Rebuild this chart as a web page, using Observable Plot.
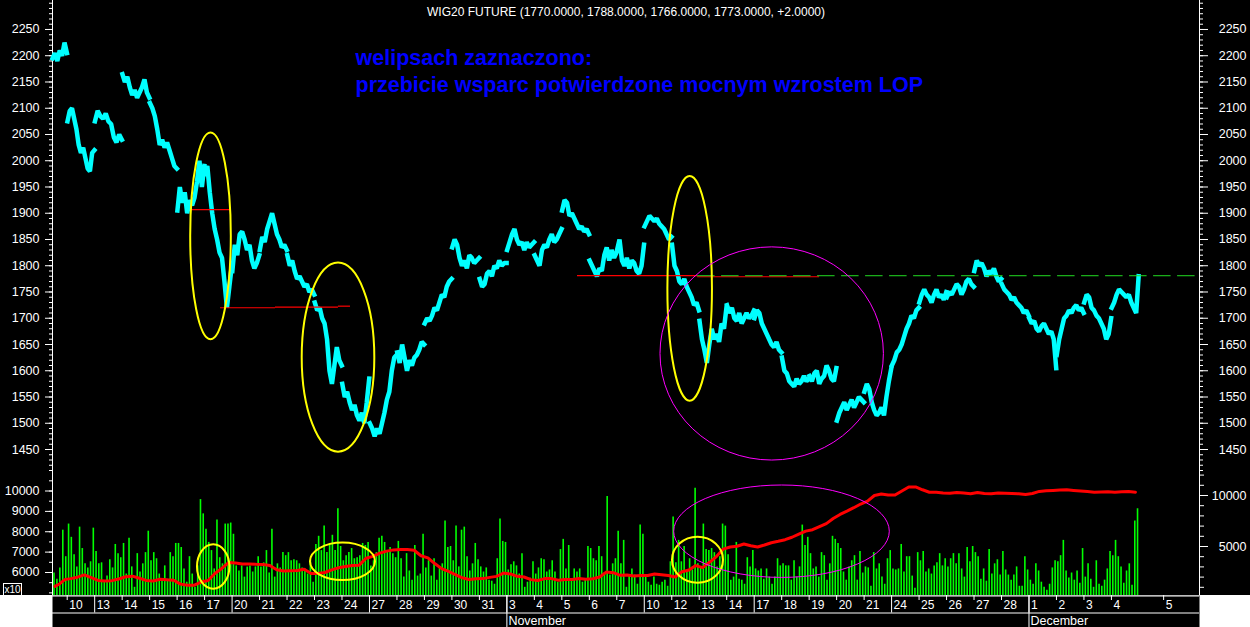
<!DOCTYPE html>
<html><head><meta charset="utf-8">
<script src="https://cdn.jsdelivr.net/npm/d3@7"></script>
<script src="https://cdn.jsdelivr.net/npm/@observablehq/plot@0.6"></script>
<style>
html,body{margin:0;padding:0;background:#000;}
#chart{position:relative;width:1250px;height:627px;background:#000;overflow:hidden;font-family:"Liberation Sans",Arial,sans-serif;}
#chart svg{position:absolute;left:0;}
.x10{position:absolute;left:3px;top:583px;width:19px;height:13px;box-sizing:border-box;border:1px solid #fff;color:#fff;font:10px "Liberation Sans",Arial,sans-serif;line-height:11px;text-align:center;}
</style></head><body><div id="chart"></div>
<script>
// ---------------- DATA ----------------
const title = "WIG20 FUTURE (1770.0000, 1788.0000, 1766.0000, 1773.0000, +2.0000)";
const noteLine1 = "welipsach zaznaczono:";
const noteLine2 = "przebicie wsparc potwierdzone mocnym wzrostem LOP";

// trading sessions (first one only partly visible)
const tradingDays = [
  "2008-10-09","2008-10-10","2008-10-13","2008-10-14","2008-10-15","2008-10-16","2008-10-17",
  "2008-10-20","2008-10-21","2008-10-22","2008-10-23","2008-10-24","2008-10-27","2008-10-28",
  "2008-10-29","2008-10-30","2008-10-31","2008-11-03","2008-11-04","2008-11-05","2008-11-06",
  "2008-11-07","2008-11-10","2008-11-12","2008-11-13","2008-11-14","2008-11-17","2008-11-18",
  "2008-11-19","2008-11-20","2008-11-21","2008-11-24","2008-11-25","2008-11-26","2008-11-27",
  "2008-11-28","2008-12-01","2008-12-02","2008-12-03","2008-12-04"
];
const futureTicks = [{label: "5", t: 39.9}];
const monthNames = ["January","February","March","April","May","June","July","August","September","October","November","December"];

// WIG20 futures price, intraday samples per session
const price = [
  [2195, 2205, 2190, 2210, 2200, 2225, 2205],
  [2075, 2095, 2100, 2080, 2060, 2030, 2015, 2025, 2005, 1985, 1980, 2015, 2020],
  [2075, 2095, 2085, 2080, 2090, 2075, 2070, 2045, 2035, 2050, 2040],
  [2165, 2150, 2160, 2140, 2125, 2135, 2120, 2130, 2140, 2155, 2130, 2120],
  [2110, 2100, 2085, 2060, 2030, 2040, 2025, 2035, 2020, 2005, 1990, 1985],
  [1905, 1950, 1920, 1940, 1900, 1925, 1915, 1930, 1960, 2000, 1950, 1990],
  [1975, 1990, 1940, 1900, 1870, 1850, 1825, 1815, 1770, 1720, 1760, 1800],
  [1790, 1840, 1820, 1860, 1865, 1850, 1830, 1840, 1810, 1795, 1805, 1820],
  [1830, 1855, 1845, 1870, 1885, 1900, 1880, 1860, 1850, 1835, 1840, 1830],
  [1820, 1800, 1810, 1790, 1775, 1780, 1770, 1760, 1765, 1750, 1755, 1745],
  [1730, 1715, 1720, 1700, 1690, 1660, 1600, 1575, 1610, 1645, 1620, 1610],
  [1575, 1550, 1560, 1540, 1525, 1535, 1515, 1505, 1520, 1500, 1540, 1585],
  [1500, 1490, 1475, 1490, 1480, 1500, 1520, 1545, 1560, 1600, 1625, 1630],
  [1635, 1615, 1650, 1625, 1600, 1620, 1610, 1625, 1630, 1640, 1655, 1650],
  [1690, 1700, 1695, 1705, 1720, 1715, 1730, 1745, 1740, 1760, 1770, 1775],
  [1835, 1850, 1840, 1815, 1800, 1810, 1795, 1820, 1815, 1805, 1810, 1815],
  [1775, 1760, 1765, 1785, 1790, 1780, 1800, 1795, 1810, 1800, 1805, 1805],
  [1830, 1845, 1860, 1870, 1850, 1840, 1845, 1830, 1845, 1835, 1840, 1845],
  [1820, 1810, 1800, 1830, 1840, 1835, 1850, 1860, 1845, 1850, 1860, 1870],
  [1905, 1925, 1920, 1895, 1900, 1890, 1880, 1870, 1875, 1865, 1870, 1860],
  [1810, 1800, 1790, 1780, 1795, 1790, 1820, 1835, 1810, 1830, 1815, 1825],
  [1830, 1850, 1810, 1800, 1815, 1795, 1810, 1805, 1790, 1785, 1800, 1840],
  [1875, 1885, 1895, 1890, 1885, 1890, 1880, 1875, 1870, 1860, 1850, 1855],
  [1840, 1800, 1790, 1770, 1765, 1775, 1760, 1750, 1740, 1725, 1730, 1715],
  [1695, 1660, 1640, 1615, 1650, 1680, 1660, 1670, 1655, 1690, 1680, 1720],
  [1725, 1710, 1720, 1700, 1695, 1710, 1690, 1700, 1710, 1700, 1705, 1715],
  [1700, 1715, 1710, 1690, 1680, 1670, 1660, 1650, 1645, 1655, 1640, 1635],
  [1625, 1600, 1595, 1580, 1575, 1570, 1585, 1575, 1580, 1590, 1580, 1585],
  [1590, 1580, 1595, 1600, 1575, 1585, 1590, 1610, 1600, 1585, 1580, 1605],
  [1505, 1520, 1530, 1540, 1525, 1535, 1545, 1530, 1540, 1550, 1545, 1540],
  [1560, 1575, 1565, 1540, 1525, 1515, 1520, 1530, 1515, 1550, 1580, 1605],
  [1610, 1620, 1635, 1640, 1650, 1665, 1680, 1690, 1705, 1700, 1715, 1720],
  [1730, 1745, 1755, 1745, 1740, 1730, 1745, 1755, 1740, 1745, 1735, 1750],
  [1740, 1750, 1745, 1755, 1765, 1760, 1745, 1755, 1770, 1775, 1765, 1760],
  [1790, 1810, 1800, 1805, 1795, 1780, 1790, 1785, 1795, 1780, 1770, 1775],
  [1765, 1755, 1750, 1745, 1735, 1740, 1730, 1725, 1720, 1710, 1715, 1705],
  [1700, 1690, 1695, 1680, 1675, 1685, 1690, 1680, 1670, 1675, 1660, 1605],
  [1630, 1660, 1680, 1700, 1705, 1715, 1710, 1720, 1725, 1715, 1720, 1710],
  [1730, 1745, 1740, 1720, 1715, 1705, 1700, 1690, 1680, 1660, 1670, 1700],
  [1720, 1730, 1745, 1755, 1750, 1745, 1740, 1745, 1730, 1720, 1710, 1780]
];

// volume bars per session (right axis)
const volume = [
  [2400, 1800, 2900, 6600, 4000],
  [7200, 5900, 4200, 3000, 6900, 4800, 3300, 2900, 3500, 6800],
  [4500, 3300, 3400, 1500, 2100, 3700, 2900, 5200, 4300, 3900],
  [5300, 2300, 5800, 3000, 1000, 4300, 2500, 3300, 4400, 6500],
  [3600, 4400, 3800, 2300, 1700, 3100, 1800, 4400, 4000, 5300],
  [5300, 4900, 2800, 1500, 4000, 2300, 1000, 3100, 9600, 8200],
  [6700, 5400, 4600, 2800, 7600, 3900, 3300, 7200, 7200, 7300],
  [6200, 3100, 2600, 3100, 2000, 3000, 3100, 2500, 3000, 4000],
  [3000, 3400, 4600, 2400, 6700, 2000, 3300, 2900, 4400, 4100],
  [4400, 3600, 3700, 3600, 3300, 2900, 2800, 2300, 3600, 1500],
  [5200, 6000, 4600, 7000, 4400, 5300, 6100, 4600, 8700, 5000],
  [3600, 4100, 4400, 4800, 3800, 3900, 4100, 5300, 5100, 5400],
  [3100, 3600, 4400, 5800, 6000, 5400, 4600, 4900, 4300, 3900],
  [5500, 3800, 2000, 4300, 2600, 1700, 5100, 2100, 2300, 6200],
  [2900, 3600, 2100, 3800, 1700, 3000, 3300, 7500, 4900, 5000],
  [3600, 7000, 3000, 6600, 6900, 4000, 2600, 3300, 5300, 3700],
  [3000, 2500, 2900, 1700, 1600, 1300, 3800, 7700, 5500, 5400],
  [2700, 3200, 3500, 3100, 2300, 4300, 1000, 1500, 1900, 3500],
  [2300, 2900, 3800, 3700, 2500, 2700, 3600, 2500, 1500, 4700],
  [5700, 2800, 5100, 1700, 2800, 2500, 2800, 1500, 1700, 5000],
  [4800, 3800, 3600, 5000, 4000, 2300, 9900, 2200, 3300, 3800],
  [6500, 3300, 5600, 1000, 2200, 2800, 2200, 1300, 7100, 6200],
  [2000, 1500, 1200, 2000, 1300, 1200, 1500, 1700, 1100, 3500],
  [7900, 3400, 5600, 3500, 5000, 2600, 3800, 2700, 10700, 3300],
  [3000, 7200, 4700, 4600, 4800, 4400, 3000, 4000, 7200, 7000],
  [4200, 1700, 2000, 5400, 1800, 1700, 1300, 3900, 3000, 4600],
  [2800, 2600, 2800, 1800, 2800, 2000, 1300, 2000, 3800, 3100],
  [3300, 3100, 3100, 1700, 3600, 2000, 3000, 7100, 5100, 5900],
  [4300, 2800, 3000, 2000, 4400, 4100, 1700, 3300, 6000, 5700],
  [5300, 4800, 2500, 1700, 3000, 3600, 4100, 1700, 4500, 2400],
  [3000, 2900, 1100, 4400, 2800, 3300, 2000, 1300, 3800, 4600],
  [2800, 2700, 2800, 5200, 2500, 4000, 4000, 2100, 900, 4400],
  [3600, 4500, 2500, 2800, 2300, 3100, 3400, 4300, 3100, 3800],
  [3000, 3800, 4300, 3300, 4300, 2800, 2000, 4900, 3500, 5000],
  [4400, 4000, 1800, 2800, 1600, 4700, 2300, 3300, 3700, 2200],
  [4500, 2700, 2200, 1700, 2200, 3000, 1100, 1100, 4000, 2700],
  [1700, 1300, 3300, 2600, 1500, 1000, 700, 1300, 2900, 3600],
  [3500, 4100, 5600, 2600, 1900, 2400, 1700, 2600, 1400, 4800],
  [2000, 3300, 1800, 1000, 3600, 1300, 1100, 1700, 2800, 4500],
  [4100, 5600, 4000, 3000, 1400, 2600, 3300, 1200, 7500, 8700]
];

// open interest (LOP, x10, left axis of lower panel)
const lop = [
  [5320, 5450, 5650],
  [5700, 5770, 5880, 5750],
  [5610, 5580, 5600, 5680],
  [5790, 5820, 5720, 5610],
  [5580, 5670, 5640, 5620],
  [5430, 5370, 5380, 5530],
  [5610, 5950, 6200, 6490],
  [6470, 6420, 6420, 6400],
  [6390, 6340, 6130, 6070],
  [6090, 6100, 6160, 5950],
  [5950, 6000, 6130, 6230],
  [6290, 6340, 6360, 6700],
  [6790, 6950, 7050, 7110],
  [7130, 7130, 7090, 6820],
  [6720, 6440, 6190, 6050],
  [5900, 5740, 5660, 5690],
  [5700, 5760, 5810, 5970],
  [5930, 5810, 5780, 5650],
  [5610, 5700, 5700, 5620],
  [5660, 5660, 5700, 5670],
  [5690, 5780, 6020, 5990],
  [5860, 5880, 5830, 5850],
  [5850, 5930, 5890, 5850],
  [5780, 6040, 6120, 6340],
  [6240, 6500, 6780, 7150],
  [7250, 7290, 7400, 7310],
  [7250, 7350, 7460, 7530],
  [7610, 7730, 7880, 8030],
  [8100, 8250, 8400, 8650],
  [8850, 9010, 9180, 9360],
  [9500, 9780, 9850, 9800],
  [9800, 10000, 10200, 10200],
  [10060, 9940, 9940, 9900],
  [9890, 9930, 9900, 9870],
  [9930, 9880, 9870, 9900],
  [9890, 9880, 9860, 9830],
  [9880, 9980, 10010, 10030],
  [10050, 10060, 10030, 10000],
  [9970, 9940, 9950, 9960],
  [9940, 9960, 9970, 9940]
];

// annotations (x in session index, y in price / LOP units)
const supportLines = [
  {t1: 4.49, t2: 5.95, v: 1907},
  {t1: 5.58, t2: 7.58, v: 1720},
  {t1: 7.58, t2: 9.87, v: 1721},
  {t1: 9.87, t2: 10.31, v: 1723},
  {t1: 18.57, t2: 22.94, v: 1781},
  {t1: 22.94, t2: 27.38, v: 1779}
];
const dashedLevel = [{t1: 22.94, t2: 41.2, v: 1781}];
const priceEllipsesYellow = [
  {t: 5.233, dt: 0.739, v: 1856, dv: 197},
  {t: 9.873, dt: 1.321, v: 1625, dv: 180},
  {t: 22.67, dt: 0.811, v: 1756, dv: 214}
];
const priceEllipsesMagenta = [{t: 25.655, dt: 4.065, v: 1632, dv: 203}];
const lopEllipsesYellow = [
  {t: 5.331, dt: 0.59, v: 6270, dv: 1090},
  {t: 10.036, dt: 1.183, v: 6525, dv: 918},
  {t: 22.955, dt: 0.928, v: 6604, dv: 1129}
];
const lopEllipsesMagenta = [{t: 26.012, dt: 3.923, v: 8002, dv: 2268}];

// axis ticks
const priceMajor = d3.range(1450, 2251, 50);
const priceMinor = d3.range(1410, 2301, 10);
const lopMajor = [6000, 7000, 8000, 9000, 10000];
const lopMinor = d3.range(5000, 10801, 500);
const volMajor = [5000, 10000];
const volMinor = d3.range(1000, 12001, 1000);

// ---------------- LAYOUT ----------------
const FONT = '"Liberation Sans", Arial, sans-serif';
const W = 1250, ML = 52, MR = 51;
const xDomain = [-0.535, 41.205];
const firstVisible = 0.465;
const PH = 473, VH = 122, AH = 32;
const priceDomain = [1404.3, 2305.2];
const volDomain = [196, 12157];
const lopDomain = [4871, 10859];

function sampleT(i, j, n) {
  const k = i - 1;
  const f0 = i === 0 ? firstVisible : 0;
  return k + f0 + (1 - f0) * (j + 0.5) / n;
}
function sessionT(i, j, n) {
  const k = i - 1;
  const f0 = i === 0 ? firstVisible : 0.01;
  return k + f0 + (0.99 - f0) * j / (n - 1);
}
const priceData = price.flatMap((row, i) => row.map((v, j) => ({t: sessionT(i, j, row.length), v, day: i})));
const volData = volume.flatMap((row, i) => row.map((v, j) => ({t: sampleT(i, j, row.length), v})));
const lopData = lop.flatMap((row, i) => row.map((v, j) => ({t: sampleT(i, j, row.length), v})));

const sessions = tradingDays.map((s, i) => {
  const d = new Date(s + "T00:00:00Z");
  const prev = i > 0 ? new Date(tradingDays[i - 1] + "T00:00:00Z") : null;
  return {t: i - 1, label: String(d.getUTCDate()), monday: d.getUTCDay() === 1,
          monthStart: prev && prev.getUTCMonth() !== d.getUTCMonth(), month: monthNames[d.getUTCMonth()]};
}).filter(d => d.t >= 0);
const shortTicks = sessions.filter(d => !d.monday).concat(futureTicks);
const weekTicks = sessions.filter(d => d.monday);
const monthTicks = sessions.filter(d => d.monthStart);
const dayLabels = sessions.concat(futureTicks);

function ellipses(list, color, width) {
  return (index, scales) => {
    const g = d3.create("svg:g");
    for (const e of list) {
      const cx = scales.x(e.t), cy = scales.y(e.v);
      const rx = Math.abs(scales.x(e.t + e.dt) - cx), ry = Math.abs(scales.y(e.v + e.dv) - cy);
      g.append("ellipse").attr("cx", cx).attr("cy", cy).attr("rx", rx).attr("ry", ry)
        .attr("fill", "none").attr("stroke", color).attr("stroke-width", width);
    }
    return g.node();
  };
}
const fmt = d => String(d);
const baseStyle = {background: "transparent", color: "white", fontFamily: FONT, fontSize: "12.5px"};

// ---------------- PRICE PANEL ----------------
const priceFig = Plot.plot({
  width: W, height: PH, marginLeft: ML, marginRight: MR, marginTop: 0, marginBottom: 0,
  x: {domain: xDomain, axis: null},
  y: {domain: priceDomain, label: null},
  style: {...baseStyle, overflow: "visible"},
  marks: [
    Plot.axisY(priceMinor, {anchor: "left", tickSize: 3, tickFormat: () => ""}),
    Plot.axisY(priceMajor, {anchor: "left", tickSize: 7, tickPadding: 6, tickFormat: fmt}),
    Plot.axisY(priceMinor, {anchor: "right", tickSize: 3, tickFormat: () => ""}),
    Plot.axisY(priceMajor, {anchor: "right", tickSize: 8, tickPadding: 39, textAnchor: "end", tickFormat: fmt}),
    Plot.ruleX(xDomain, {stroke: "white"}),
    Plot.line(priceData, {x: "t", y: "v", z: "day", stroke: "#00ffff", strokeWidth: 4.5, strokeLinejoin: "miter", strokeLinecap: "square"}),
    Plot.ruleY(supportLines, {y: "v", x1: "t1", x2: "t2", stroke: "#ff0000", strokeWidth: 1.2}),
    Plot.ruleY(dashedLevel, {y: "v", x1: "t1", x2: "t2", stroke: "#22dd22", strokeWidth: 1, strokeDasharray: "17.5,6.5"}),
    ellipses(priceEllipsesYellow, "#ffff00", 2),
    ellipses(priceEllipsesMagenta, "#ff00ff", 1),
    Plot.text([title], {frameAnchor: "top", text: d => d, fill: "white", fontSize: 12, dy: 15, lineAnchor: "bottom"}),
    Plot.text([noteLine1], {frameAnchor: "top-left", text: d => d, fill: "#0000ff", fontSize: 21.5, fontWeight: "bold", textAnchor: "start", dx: 303, dy: 64, lineAnchor: "bottom"}),
    Plot.text([noteLine2], {frameAnchor: "top-left", text: d => d, fill: "#0000ff", fontSize: 21.5, fontWeight: "bold", textAnchor: "start", dx: 303, dy: 91, lineAnchor: "bottom"})
  ]
});
priceFig.style.top = "0px";

// ---------------- VOLUME PANEL ----------------
const volFig = Plot.plot({
  width: W, height: VH, marginLeft: ML, marginRight: MR, marginTop: 0, marginBottom: 0,
  x: {domain: xDomain, axis: null},
  y: {domain: volDomain, label: null},
  style: {...baseStyle, overflow: "hidden"},
  marks: [
    Plot.axisY(volMinor, {anchor: "right", tickSize: 4, tickFormat: () => ""}),
    Plot.axisY(volMajor, {anchor: "right", tickSize: 8, tickPadding: 39, textAnchor: "end", tickFormat: fmt}),
    Plot.ruleX(volData, {x: "t", y1: 0, y2: "v", stroke: "#00ff00", strokeWidth: 1.6}),
    Plot.ruleX(xDomain, {stroke: "white"})
  ]
});
volFig.style.top = PH + "px";

const lopFig = Plot.plot({
  width: W, height: VH, marginLeft: ML, marginRight: MR, marginTop: 0, marginBottom: 0,
  x: {domain: xDomain, axis: null},
  y: {domain: lopDomain, label: null},
  style: {...baseStyle, overflow: "hidden"},
  marks: [
    Plot.axisY(lopMinor, {anchor: "left", tickSize: 3, tickFormat: () => ""}),
    Plot.axisY(lopMajor, {anchor: "left", tickSize: 7, tickPadding: 6, tickFormat: fmt}),
    Plot.line(lopData, {x: "t", y: "v", stroke: "#ff0000", strokeWidth: 3}),
    ellipses(lopEllipsesYellow, "#ffff00", 2),
    ellipses(lopEllipsesMagenta, "#ff00ff", 1)
  ]
});
lopFig.style.top = PH + "px";

// ---------------- DATE AXIS BAND ----------------
const axisFig = Plot.plot({
  width: W, height: AH, marginLeft: ML, marginRight: MR, marginTop: 0, marginBottom: 0,
  x: {domain: xDomain, axis: null},
  y: {domain: [0, AH], range: [0, AH], axis: null},
  style: {...baseStyle, background: "white", fontSize: "12px"},
  marks: [
    Plot.frame({fill: "black"}),
    Plot.ruleY([0.5, 17.5], {stroke: "white"}),
    Plot.ruleX(shortTicks, {x: "t", y1: 0, y2: 5, stroke: "white"}),
    Plot.ruleX(weekTicks, {x: "t", y1: 0, y2: 17.5, stroke: "white"}),
    Plot.ruleX(monthTicks, {x: "t", y1: 0, y2: AH, stroke: "white"}),
    Plot.text(dayLabels, {x: "t", y: 13.3, text: "label", fill: "white", textAnchor: "start", dx: 2, lineAnchor: "bottom"}),
    Plot.text(monthTicks, {x: "t", y: 29.3, text: "month", fill: "white", textAnchor: "start", dx: 1.5, lineAnchor: "bottom", fontSize: 12.5})
  ]
});
axisFig.style.top = (PH + VH) + "px";

const chart = document.getElementById("chart");
chart.append(priceFig, volFig, lopFig, axisFig);
const box = document.createElement("div");
box.className = "x10";
box.textContent = "x10";
chart.append(box);
</script></body></html>
